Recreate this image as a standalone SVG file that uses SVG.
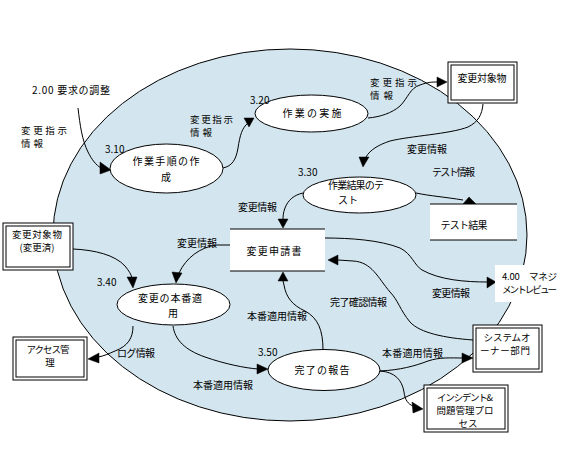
<svg xmlns="http://www.w3.org/2000/svg" width="570" height="470" viewBox="0 0 570 470">
<style>
text{font-family:"Noto Sans CJK JP","Liberation Sans",sans-serif;font-size:10px;fill:#000}
.s{font-size:9.5px}
.m{text-anchor:middle}
.proc{fill:#fff;stroke:#000;stroke-width:1}
.box{fill:#fff;stroke:#000;stroke-width:1}
.c{fill:none;stroke:#000;stroke-width:1}
.ah{fill:#000;stroke:#000;stroke-width:0.5}
.store{stroke:#000;stroke-width:1}
</style>
<rect width="570" height="470" fill="#fff"/>
<ellipse id="boundary" cx="290" cy="235" rx="237" ry="186" fill="#d3e5ee" stroke="#000" stroke-width="1"/>

<g id="connectors">
<path class="c" d="M78,108 C80,125 82,140 88,152 C92,160 96,165 101,168"/>
<polygon class="ah" points="100,162 100,174 111,170"/>
<path class="c" d="M223,168 C232,166 236,160 238,148 C240,135 242,128 248,123"/>
<polygon class="ah" points="244,118 254,118 249,127"/>
<path class="c" d="M368,118 C380,117 392,113 400,106 C408,98 410,88 420,85 C428,82 432,82 438,82"/>
<polygon class="ah" points="437,77 437,87 447,82"/>
<path class="c" d="M483,104 C482,115 478,122 468,127 C450,134 410,136 390,141 C378,145 370,150 366,157"/>
<polygon class="ah" points="359,157 369,157 363,167"/>
<path class="c" d="M416,193 C430,196 445,197 463,200"/>
<polygon class="ah" points="463,204 476,204 469,197"/>
<path class="c" d="M303,193 C294,195 288,200 285,208 C283,213 283,217 283,220"/>
<polygon class="ah" points="278,219 288,219 283,228"/>
<path class="c" d="M230,245 L217,245 C200,247 186,258 179,273"/>
<polygon class="ah" points="172,272 182,273 176,283"/>
<path class="c" d="M73,249 C95,250 115,255 125,266 C129,271 131,274 132,278"/>
<polygon class="ah" points="127,277 137,277 133,288"/>
<path class="c" d="M325,238 C350,238 380,240 400,248 C412,254 414,265 422,270 C440,280 465,282 488,282"/>
<polygon class="ah" points="487,277 487,288 496,282"/>
<path class="c" d="M473,340 C445,338 420,333 410,322 C400,310 398,300 390,292 C378,278 372,262 353,261 L338,260"/>
<polygon class="ah" points="338,255 338,265 328,260"/>
<path class="c" d="M323,350 C323,330 318,318 305,311 C292,305 286,297 284,285 L283,281"/>
<polygon class="ah" points="278,281 288,281 283,272"/>
<path class="c" d="M133,326 C133,338 128,346 115,351 C108,354 104,356 98,357"/>
<polygon class="ah" points="99,353 99,363 88,359"/>
<path class="c" d="M173,326 C175,340 185,350 205,357 C225,364 245,368 258,369"/>
<polygon class="ah" points="257,364 257,374 268,369"/>
<path class="c" d="M380,371 C400,370 415,366 428,361 C440,357 450,358 463,358"/>
<polygon class="ah" points="462,353 462,363 473,358"/>
<path class="c" d="M380,371 C395,372 402,380 404,392 C405,400 408,404 413,406"/>
<polygon class="ah" points="412,402 413,413 423,409"/>
</g>

<g id="n200"><text x="32" y="94" textLength="78" lengthAdjust="spacing">2.00 要求の調整</text></g>
<g id="lbl1"><text class="s" x="21" y="134" textLength="46" lengthAdjust="spacing">変更指示</text><text class="s" x="21" y="147" textLength="22" lengthAdjust="spacing">情報</text></g>

<g id="p310">
<ellipse class="proc" cx="166.5" cy="168.5" rx="56.5" ry="24.5"/>
<text x="105" y="153">3.10</text>
<text class="m" x="166" y="165" textLength="67" lengthAdjust="spacing">作業手順の作</text>
<text class="m" x="166" y="181">成</text>
</g>
<g id="lbl2"><text class="s" x="190" y="123" textLength="43" lengthAdjust="spacing">変更指示</text><text class="s" x="190" y="136" textLength="22" lengthAdjust="spacing">情報</text></g>

<g id="p320">
<ellipse class="proc" cx="311.5" cy="113.5" rx="56.5" ry="18.5"/>
<text x="250" y="104">3.20</text>
<text class="m" x="312" y="117" textLength="59" lengthAdjust="spacing">作業の実施</text>
</g>
<g id="lbl3"><text class="s" x="370" y="86" textLength="47" lengthAdjust="spacing">変更指示</text><text class="s" x="370" y="99" textLength="23" lengthAdjust="spacing">情報</text></g>

<g id="e_target">
<rect class="box" x="448" y="62" width="69" height="41"/>
<rect class="box" x="451" y="65" width="63" height="35"/>
<text class="m" x="482" y="82" textLength="49" lengthAdjust="spacing">変更対象物</text>
</g>
<g id="lbl4"><text x="407" y="153" textLength="40" lengthAdjust="spacing">変更情報</text></g>
<g id="lbl5"><text x="432" y="176" textLength="43" lengthAdjust="spacing">テスト情報</text></g>

<g id="p330">
<ellipse class="proc" cx="359.5" cy="195" rx="56.5" ry="18"/>
<text x="298" y="176">3.30</text>
<text class="m" x="356" y="189" textLength="56" lengthAdjust="spacing">作業結果のテ</text>
<text class="m" x="348" y="204">スト</text>
</g>

<g id="ds_test">
<rect x="430" y="204" width="87" height="36" fill="#fff"/>
<line class="store" x1="430" y1="204" x2="517" y2="204"/>
<line class="store" x1="430" y1="240" x2="517" y2="240"/>
<text class="m" x="464" y="229" textLength="47" lengthAdjust="spacing">テスト結果</text>
</g>
<g id="lbl6"><text x="238" y="211" textLength="39" lengthAdjust="spacing">変更情報</text></g>

<g id="ds_req">
<rect x="230" y="229" width="95" height="42" fill="#fff"/>
<line class="store" x1="230" y1="229" x2="325" y2="229"/>
<line class="store" x1="230" y1="271" x2="325" y2="271"/>
<text class="m" x="274" y="255" textLength="55" lengthAdjust="spacing">変更申請書</text>
</g>
<g id="lbl7"><text x="177" y="247" textLength="40" lengthAdjust="spacing">変更情報</text></g>

<g id="e_changed">
<rect class="box" x="3" y="223" width="70" height="47"/>
<rect class="box" x="6" y="226" width="64" height="41"/>
<text class="m s" x="37" y="238" textLength="50" lengthAdjust="spacing">変更対象物</text>
<text class="m s" x="37" y="251">(変更済)</text>
</g>

<g id="p340">
<ellipse class="proc" cx="173.5" cy="304.5" rx="56.5" ry="20.5"/>
<text x="97" y="286">3.40</text>
<text class="m" x="170" y="302" textLength="64" lengthAdjust="spacing">変更の本番適</text>
<text class="m" x="173" y="317">用</text>
</g>

<g id="n400">
<rect x="495" y="265" width="73" height="37" fill="#fff"/>
<text class="s" x="502" y="280" textLength="55" lengthAdjust="spacing">4.00　マネジ</text>
<text class="s" x="502" y="293" textLength="55" lengthAdjust="spacing">メントレビュー</text>
</g>
<g id="lbl8"><text x="432" y="297" textLength="38" lengthAdjust="spacing">変更情報</text></g>
<g id="lbl9"><text x="330" y="306" textLength="57" lengthAdjust="spacing">完了確認情報</text></g>
<g id="lbl10"><text x="247" y="320" textLength="60" lengthAdjust="spacing">本番適用情報</text></g>
<g id="lbl11"><text x="117" y="357" textLength="38" lengthAdjust="spacing">ログ情報</text></g>

<g id="e_access">
<rect class="box" x="13" y="337" width="74" height="43"/>
<rect class="box" x="16" y="340" width="68" height="37"/>
<text class="m s" x="48" y="353" textLength="43" lengthAdjust="spacing">アクセス管</text>
<text class="m s" x="50" y="366">理</text>
</g>

<g id="p350">
<ellipse class="proc" cx="324" cy="370" rx="56" ry="20.5"/>
<text x="258" y="356">3.50</text>
<text class="m" x="322" y="374" textLength="55" lengthAdjust="spacing">完了の報告</text>
</g>
<g id="lbl12"><text x="382" y="357" textLength="61" lengthAdjust="spacing">本番適用情報</text></g>
<g id="lbl13"><text x="193" y="389" textLength="60" lengthAdjust="spacing">本番適用情報</text></g>

<g id="e_owner">
<rect class="box" x="473" y="325" width="69" height="47"/>
<rect class="box" x="476" y="328" width="63" height="41"/>
<text class="m s" x="507" y="341" textLength="47" lengthAdjust="spacing">システムオ</text>
<text class="m s" x="505" y="354" textLength="50" lengthAdjust="spacing">ーナー部門</text>
</g>

<g id="e_incident">
<rect class="box" x="424" y="385" width="84" height="47"/>
<rect class="box" x="427" y="388" width="78" height="41"/>
<text class="m s" x="465" y="401" textLength="56" lengthAdjust="spacing">インシデント&amp;</text>
<text class="m s" x="465" y="414" textLength="57" lengthAdjust="spacing">問題管理プロ</text>
<text class="m s" x="468" y="427">セス</text>
</g>
</svg>
